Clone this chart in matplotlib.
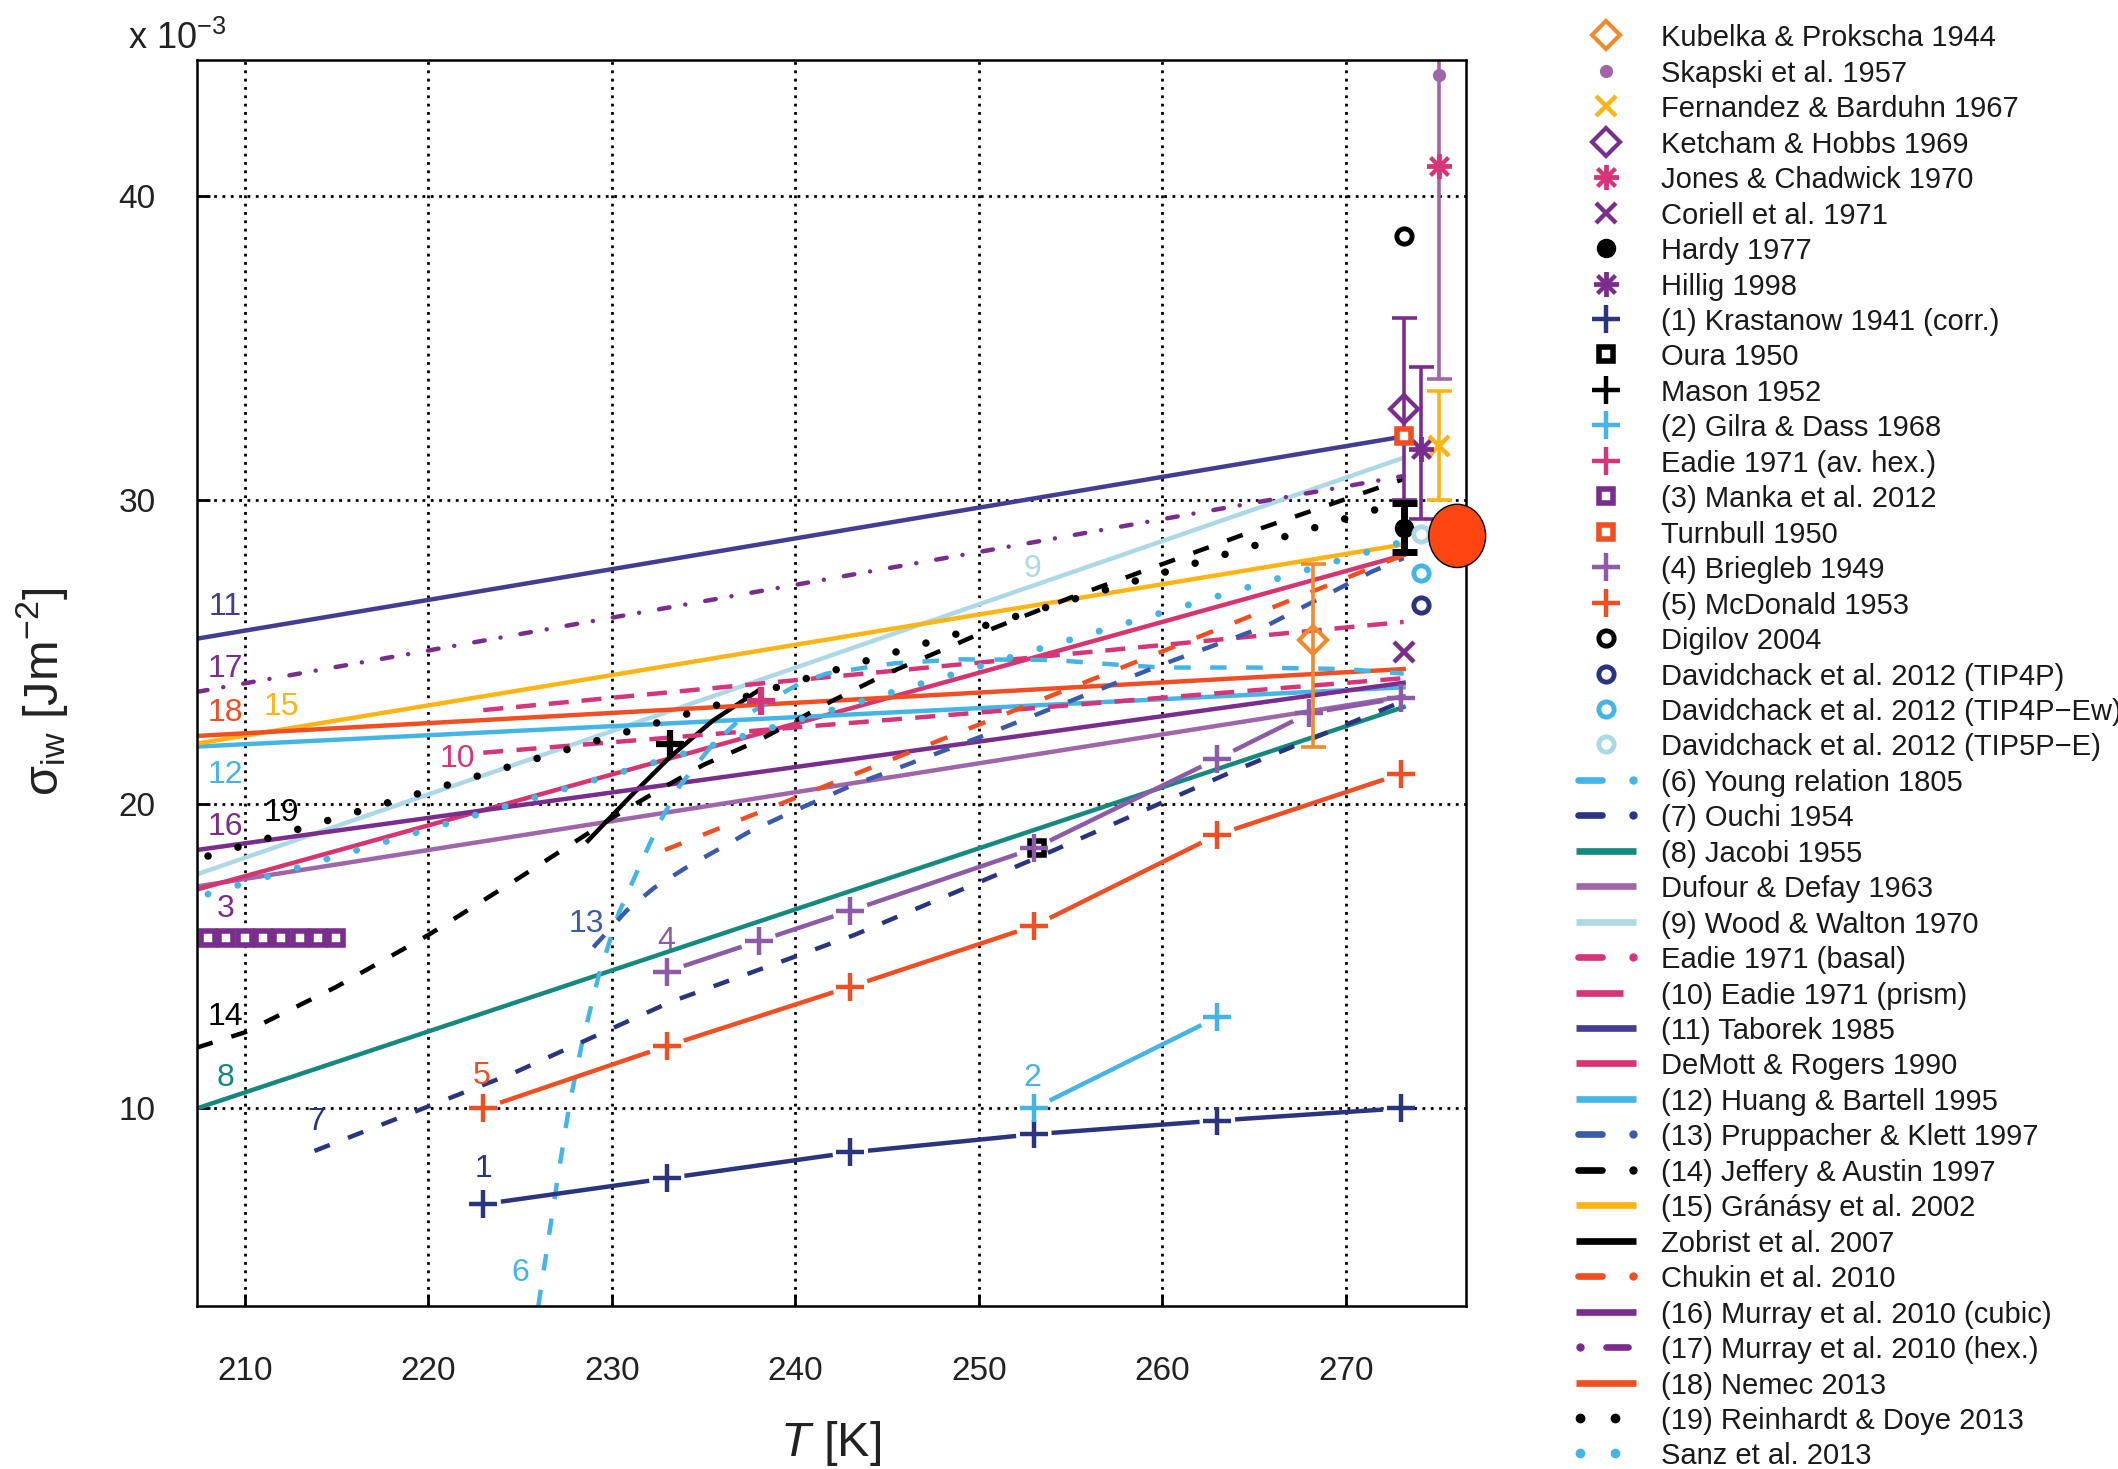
import matplotlib.pyplot as plt
import numpy as np
from matplotlib.patches import Ellipse

plt.rcParams['font.family'] = ['Liberation Sans', 'DejaVu Sans']
plt.rcParams['mathtext.fontset'] = 'custom'
plt.rcParams['mathtext.rm'] = 'Liberation Sans'
plt.rcParams['mathtext.it'] = 'Liberation Sans:italic'
plt.rcParams['mathtext.sf'] = 'Liberation Sans'

# sigma_iw in 1e-3 J m^-2, T in K

# single measurements: T, sigma, (err below, err above)
kubelka_T, kubelka_s, kubelka_err = 268.2, 25.4, (3.5, 2.5)
skapski_T, skapski_s, skapski_err = 275.1, 44.0, (10.0, 10.0)
fernandez_T, fernandez_s, fernandez_err = 275.1, 31.8, (1.8, 1.8)
ketcham_T, ketcham_s, ketcham_err = 273.15, 33.0, (3.0, 3.0)
jones_T, jones_s = 275.1, 41.0
coriell_T, coriell_s = 273.15, 25.0
hardy_T, hardy_s, hardy_err = 273.15, 29.1, (0.8, 0.8)
hillig_T, hillig_s, hillig_err = 274.1, 31.7, (2.3, 2.7)
oura_T, oura_s = 253.15, 18.55
mason_T, mason_s = 233.15, 22.0
eadie_hex_T, eadie_hex_s = 238.15, 23.4
turnbull_T, turnbull_s = 273.15, 32.1
digilov_T, digilov_s = 273.15, 38.7
dav_T = 274.1
dav_tip4p_s, dav_tip4pew_s, dav_tip5pe_s = 26.55, 27.6, 28.9
red_T, red_s = 276.07, 28.83

# series with points
krast_T = [223, 233, 243, 253, 263, 273]
krast_s = [6.85, 7.7, 8.55, 9.15, 9.6, 10.0]
gilra_T = [253, 263]
gilra_s = [10.0, 13.0]
manka_T = [208, 209, 210, 211, 212, 213, 214, 215]
manka_s = [15.6, 15.6, 15.6, 15.6, 15.6, 15.6, 15.6, 15.6]
briegleb_T = [233, 238, 243, 253, 263, 268, 273]
briegleb_s = [14.5, 15.5, 16.5, 18.55, 21.5, 23.0, 23.5]
mcdonald_T = [223, 233, 243, 253, 263, 273]
mcdonald_s = [10.0, 12.05, 14.0, 16.0, 19.0, 21.0]

# curves
young_T = [226.0, 226.9, 227.7, 228.4, 229.3, 230.4, 231.5, 232.6, 233.7, 235.4,
           237.0, 239.0, 240.3, 241.7, 243.5, 245.4, 249.0, 254.0, 257.4, 260.0,
           265.0, 270.0, 273.15]
young_s = [3.5, 7.1, 10.15, 12.2, 14.4, 16.45, 17.95, 19.4, 20.6, 21.9,
           22.8, 23.55, 24.0, 24.3, 24.47, 24.64, 24.77, 24.75, 24.6, 24.5,
           24.5, 24.45, 24.3]
ouchi_T = [213.8, 224.6, 233.2, 243.2, 253.0, 263.9, 273.15]
ouchi_s = [8.6, 11.15, 13.5, 15.7, 18.2, 21.1, 23.4]
jacobi_T, jacobi_s = [207.4, 273.15], [10.0, 23.2]
dufour_T, dufour_s = [207.4, 273.15], [17.3, 23.55]
wood_T, wood_s = [207.4, 273.15], [17.7, 31.4]
eadie_b_T, eadie_b_s = [223.0, 273.15], [23.1, 26.0]
eadie_p_T, eadie_p_s = [223.0, 273.15], [21.7, 24.15]
taborek_T, taborek_s = [207.4, 273.15], [25.45, 32.1]
demott_T, demott_s = [207.4, 273.15], [17.2, 28.2]
huang_T, huang_s = [207.4, 273.15], [21.9, 23.85]
prupp_T = [229.0, 230.8, 232.3, 234.0, 237.5, 240.0, 243.0, 250.0, 255.0, 260.0,
           265.6, 271.4, 273.15]
prupp_s = [15.3, 16.5, 17.25, 17.9, 19.1, 19.8, 20.6, 22.2, 23.4, 24.6,
           25.85, 27.65, 28.1]
jeffery_T = [207.4, 210, 215, 220, 225, 230, 232.6, 235, 238, 240, 242, 245, 248.5,
             250, 255, 260, 265, 273.15]
jeffery_s = [12.0, 12.5, 14.0, 15.7, 17.6, 19.55, 20.48, 21.3, 22.1, 22.75, 23.4,
             24.3, 25.2, 25.6, 26.8, 27.9, 29.0, 30.7]
granasy_T, granasy_s = [207.4, 273.15], [22.0, 28.55]
zobrist_T = [228.7, 231.0, 233.2, 235.5, 238.0]
zobrist_s = [18.8, 20.25, 21.57, 22.75, 23.75]
chukin_T, chukin_s = [232.9, 273.15], [18.5, 28.2]
murray_c_T, murray_c_s = [207.4, 273.15], [18.5, 24.0]
murray_h_T, murray_h_s = [207.4, 273.15], [23.7, 30.8]
nemec_T, nemec_s = [207.4, 273.15], [22.25, 24.45]
reinhardt_T, reinhardt_s = [208.0, 272.5], [18.3, 29.85]
sanz_T, sanz_s = [208.0, 273.15], [17.05, 28.65]

# number labels on the curves
tag_text = ['11', '17', '18', '15', '12', '16', '19', '10', '9', '3', '13', '4',
            '14', '8', '5', '7', '1', '2', '6']
tag_T = [208.95, 208.95, 208.95, 212.0, 208.95, 208.95, 212.0, 221.6, 252.9, 208.95,
         228.6, 232.95, 208.95, 208.95, 222.9, 213.9, 223.0, 252.9, 225.0]
tag_s = [26.5, 24.45, 23.0, 23.2, 20.95, 19.25, 19.7, 21.5, 27.75, 16.55,
         16.05, 15.5, 13.0, 11.0, 11.05, 9.55, 8.0, 11.0, 4.6]

ORANGE = '#F08A2C'
LPURPLE = '#A066AA'
YELLOW = '#FDB515'
PURPLE = '#7B2D8E'
PINK = '#D6357A'
NAVY = '#2B3480'
SKY = '#45B5E6'
RED = '#F04E23'
MPURPLE = '#8E5BA8'
LBLUE = '#ADD8E6'
TEAL = '#15897F'
INDIGO = '#433E93'
BLUE = '#3A5BA9'
DEMOTT = '#D8346F'

tag_color = [INDIGO, PURPLE, RED, YELLOW, SKY, PURPLE, 'black', PINK, LBLUE, PURPLE,
             BLUE, MPURPLE, 'black', TEAL, RED, NAVY, NAVY, SKY, SKY]

LW = 3.2
DASH = (0, (3.7, 4.4))


def mk(kind, color):
    if kind == 'D':
        return dict(marker='D', ms=14, mfc='none', mec=color, mew=3, ls='none')
    if kind == 'dot':
        return dict(marker='o', ms=9.5, mfc=color, mec=color, mew=0, ls='none')
    if kind == 'x':
        return dict(marker='x', ms=14, mec=color, mew=3.2, ls='none')
    if kind == 'ast':
        return dict(marker=(8, 2, 0), ms=18, mec=color, mew=2.8, ls='none')
    if kind == 'o':
        return dict(marker='o', ms=14, mfc=color, mec=color, mew=0, ls='none')
    if kind == '+':
        return dict(marker='+', ms=19.5, mec=color, mew=3.2, ls='none')
    if kind == 's':
        return dict(marker='s', ms=10.5, mfc='white', mec=color, mew=4, ls='none')
    if kind == 'ring':
        return dict(marker='o', ms=11, mfc='none', mec=color, mew=3.5, ls='none')


W, H = 2118, 1469
fig = plt.figure(figsize=(W / 100, H / 100), dpi=100)
ax = fig.add_axes([197 / W, 1 - 1306 / H, 1269 / W, 1246.5 / H])
ax.set_xlim(207.4, 276.55)
ax.set_ylim(3.5, 44.5)


def gapped(x, y, gap=20, **kw):
    # line broken around each point, like linespoints
    pts = ax.transData.transform(np.column_stack([x, y]))
    inv = ax.transData.inverted()
    for p0, p1 in zip(pts[:-1], pts[1:]):
        d = p1 - p0
        u = d / np.hypot(*d)
        seg = inv.transform(np.array([p0 + u * gap, p1 - u * gap]))
        ax.plot(seg[:, 0], seg[:, 1], **kw)


# lines
ax.plot(jacobi_T, jacobi_s, color=TEAL, lw=LW)
ax.plot(dufour_T, dufour_s, color=LPURPLE, lw=LW)
ax.plot(wood_T, wood_s, color=LBLUE, lw=LW)
ax.plot(taborek_T, taborek_s, color=INDIGO, lw=LW)
ax.plot(demott_T, demott_s, color=DEMOTT, lw=LW)
ax.plot(huang_T, huang_s, color=SKY, lw=LW)
ax.plot(granasy_T, granasy_s, color=YELLOW, lw=LW)
ax.plot(zobrist_T, zobrist_s, color='black', lw=LW)
ax.plot(murray_c_T, murray_c_s, color=PURPLE, lw=LW)
ax.plot(nemec_T, nemec_s, color=RED, lw=LW)
ax.plot(eadie_b_T, eadie_b_s, color=PINK, lw=LW, ls=(0, (4.5, 2.9)))
ax.plot(eadie_p_T, eadie_p_s, color=PINK, lw=LW, ls=(0, (4.5, 3.0)))
ax.plot(young_T, young_s, color=SKY, lw=LW, ls=DASH)
ax.plot(ouchi_T, ouchi_s, color=NAVY, lw=LW, ls=DASH)
ax.plot(prupp_T, prupp_s, color=BLUE, lw=LW, ls=DASH)
ax.plot(jeffery_T, jeffery_s, color='black', lw=LW, ls=DASH)
ax.plot(chukin_T, chukin_s, color=RED, lw=LW, ls=(0, (4, 5.2)))
ax.plot(murray_h_T, murray_h_s, color=PURPLE, lw=LW, ls=(0, (2.4, 3.6, 0.01, 4.55)),
        dash_capstyle='round')
ax.plot(reinhardt_T, reinhardt_s, color='black', lw=5.4, ls=(0, (0.01, 4.15)),
        dash_capstyle='round')
ax.plot(sanz_T, sanz_s, color=SKY, lw=5.0, ls=(0, (0.01, 4.45)),
        dash_capstyle='round')

# series with points
gapped(krast_T, krast_s, color=NAVY, lw=LW)
ax.plot(krast_T, krast_s, **mk('+', NAVY))
gapped(gilra_T, gilra_s, color=SKY, lw=LW)
ax.plot(gilra_T, gilra_s, **mk('+', SKY))
gapped(mcdonald_T, mcdonald_s, color=RED, lw=LW)
ax.plot(mcdonald_T, mcdonald_s, **mk('+', RED))
ax.plot(manka_T, manka_s, **mk('s', PURPLE))
ax.plot(oura_T, oura_s, **mk('s', 'black'))
gapped(briegleb_T, briegleb_s, color=MPURPLE, lw=LW)
ax.plot(briegleb_T, briegleb_s, **mk('+', MPURPLE))
ax.plot(mason_T, mason_s, marker='+', ms=19.5, mec='black', mew=4.5, ls='none')
ax.plot(eadie_hex_T, eadie_hex_s, marker='+', ms=19.5, mec=PINK, mew=4.5, ls='none')

# error bars
eb = dict(fmt='none', elinewidth=2.6, capsize=9, capthick=2.6)
ax.errorbar(kubelka_T, kubelka_s, yerr=[[kubelka_err[0]], [kubelka_err[1]]], ecolor=ORANGE, **eb)
ax.errorbar(skapski_T, skapski_s, yerr=[[skapski_err[0]], [skapski_err[1]]], ecolor=LPURPLE, **eb)
ax.errorbar(fernandez_T, fernandez_s, yerr=[[fernandez_err[0]], [fernandez_err[1]]], ecolor=YELLOW, **eb)
ax.errorbar(ketcham_T, ketcham_s, yerr=[[ketcham_err[0]], [ketcham_err[1]]], ecolor=PURPLE, **eb)
ax.errorbar(hillig_T, hillig_s, yerr=[[hillig_err[0]], [hillig_err[1]]], ecolor=PURPLE, **eb)
ax.errorbar(hardy_T, hardy_s, yerr=[[hardy_err[0]], [hardy_err[1]]], ecolor='black',
            fmt='none', elinewidth=5, capsize=9, capthick=5)

ax.plot(kubelka_T, kubelka_s, **mk('D', ORANGE))
ax.plot(skapski_T, skapski_s, **mk('dot', LPURPLE))
ax.plot(fernandez_T, fernandez_s, **mk('x', YELLOW))
ax.plot(ketcham_T, ketcham_s, **mk('D', PURPLE))
ax.plot(jones_T, jones_s, **mk('ast', PINK))
ax.plot(coriell_T, coriell_s, **mk('x', PURPLE))
ax.plot(hardy_T, hardy_s, **mk('o', 'black'))
ax.plot(hillig_T, hillig_s, **mk('ast', PURPLE))
ax.plot(turnbull_T, turnbull_s, **mk('s', RED))
ax.plot(digilov_T, digilov_s, **mk('ring', 'black'))
ax.plot(dav_T, dav_tip4p_s, **mk('ring', NAVY))
ax.plot(dav_T, dav_tip4pew_s, **mk('ring', SKY))
ax.plot(dav_T, dav_tip5pe_s, **mk('ring', LBLUE))

ax.add_patch(Ellipse((red_T, red_s), 3.1, 2.08, facecolor='#FF4612', edgecolor='black',
                     lw=1, clip_on=False, zorder=10))

for t, x, y, c in zip(tag_text, tag_T, tag_s, tag_color):
    ax.text(x, y, t, color=c, fontsize=23, ha='center', va='center')

ax.set_xticks([210, 220, 230, 240, 250, 260, 270])
ax.set_yticks([10, 20, 30, 40])
ax.grid(True, color='black', linestyle=(0, (1, 2)), linewidth=2)
ax.tick_params(direction='in', length=9, width=2, labelsize=24, labelcolor='#222222')
ax.tick_params(axis='x', pad=36)
ax.tick_params(axis='y', pad=30)
for sp in ax.spines.values():
    sp.set_linewidth(1.8)

fig.text(128 / W, 1 - 49 / H, r'x 10$^{-3}$', fontsize=26, va='baseline', color='#222222')
fig.text(42 / W, 1 - 692 / H, r'σ$_{\rm iw}$ [Jm$^{-2}$]', rotation=90, fontsize=35,
         ha='center', va='center', color='#222222')
fig.text(831 / W, 1 - 1443 / H, r'$T$ [K]', fontsize=35, ha='center', va='center',
         color='#222222')

# legend
legend_entries = [
    ('Kubelka & Prokscha 1944', 'marker', ORANGE, 'D'),
    ('Skapski et al. 1957', 'marker', LPURPLE, 'dot'),
    ('Fernandez & Barduhn 1967', 'marker', YELLOW, 'x'),
    ('Ketcham & Hobbs 1969', 'marker', PURPLE, 'D'),
    ('Jones & Chadwick 1970', 'marker', PINK, 'ast'),
    ('Coriell et al. 1971', 'marker', PURPLE, 'x'),
    ('Hardy 1977', 'marker', 'black', 'o'),
    ('Hillig 1998', 'marker', PURPLE, 'ast'),
    ('(1) Krastanow 1941 (corr.)', 'marker', NAVY, '+'),
    ('Oura 1950', 'marker', 'black', 's'),
    ('Mason 1952', 'marker', 'black', '+'),
    ('(2) Gilra & Dass 1968', 'marker', SKY, '+'),
    ('Eadie 1971 (av. hex.)', 'marker', PINK, '+'),
    ('(3) Manka et al. 2012', 'marker', PURPLE, 's'),
    ('Turnbull 1950', 'marker', RED, 's'),
    ('(4) Briegleb 1949', 'marker', MPURPLE, '+'),
    ('(5) McDonald 1953', 'marker', RED, '+'),
    ('Digilov 2004', 'marker', 'black', 'ring'),
    ('Davidchack et al. 2012 (TIP4P)', 'marker', NAVY, 'ring'),
    ('Davidchack et al. 2012 (TIP4P\u2212Ew)', 'marker', SKY, 'ring'),
    ('Davidchack et al. 2012 (TIP5P\u2212E)', 'marker', LBLUE, 'ring'),
    ('(6) Young relation 1805', 'dashdot', SKY, None),
    ('(7) Ouchi 1954', 'dashdot', NAVY, None),
    ('(8) Jacobi 1955', 'solid', TEAL, None),
    ('Dufour & Defay 1963', 'solid', LPURPLE, None),
    ('(9) Wood & Walton 1970', 'solid', LBLUE, None),
    ('Eadie 1971 (basal)', 'dashdot', PINK, None),
    ('(10) Eadie 1971 (prism)', 'short', PINK, None),
    ('(11) Taborek 1985', 'solid', INDIGO, None),
    ('DeMott & Rogers 1990', 'solid', DEMOTT, None),
    ('(12) Huang & Bartell 1995', 'solid', SKY, None),
    ('(13) Pruppacher & Klett 1997', 'dashdot', BLUE, None),
    ('(14) Jeffery & Austin 1997', 'dashdot', 'black', None),
    ('(15) Gránásy et al. 2002', 'solid', YELLOW, None),
    ('Zobrist et al. 2007', 'solid', 'black', None),
    ('Chukin et al. 2010', 'dashdot', RED, None),
    ('(16) Murray et al. 2010 (cubic)', 'solid', PURPLE, None),
    ('(17) Murray et al. 2010 (hex.)', 'dotdash', PURPLE, None),
    ('(18) Nemec 2013', 'solid', RED, None),
    ('(19) Reinhardt & Doye 2013', 'dots', 'black', None),
    ('Sanz et al. 2013', 'dots', SKY, None),
]

lax = fig.add_axes([0, 0, 1, 1])
lax.set_xlim(0, W)
lax.set_ylim(H, 0)
lax.axis('off')
for i, (label, kind, color, m) in enumerate(legend_entries):
    y = 35.4 + 35.45 * i
    if kind == 'marker':
        lax.plot([1606], [y], **mk(m, color))
    elif kind == 'solid':
        lax.plot([1576, 1636], [y, y], color=color, lw=4.8, solid_capstyle='butt')
    elif kind == 'short':
        lax.plot([1576, 1623], [y, y], color=color, lw=4.8, solid_capstyle='butt')
    elif kind == 'dashdot':
        lax.plot([1578, 1602], [y, y], color=color, lw=4.8, solid_capstyle='round')
        lax.plot([1633], [y], 'o', ms=5, color=color)
    elif kind == 'dotdash':
        lax.plot([1580], [y], 'o', ms=5, color=color)
        lax.plot([1606, 1628], [y, y], color=color, lw=4.8, solid_capstyle='round')
    elif kind == 'dots':
        lax.plot([1580, 1615], [y, y], 'o', ms=6, color=color, ls='none')
    lax.text(1661, y, label, fontsize=21, ha='left', va='center_baseline',
             color='#1a1a1a')

fig.savefig('out.png', dpi=100)
